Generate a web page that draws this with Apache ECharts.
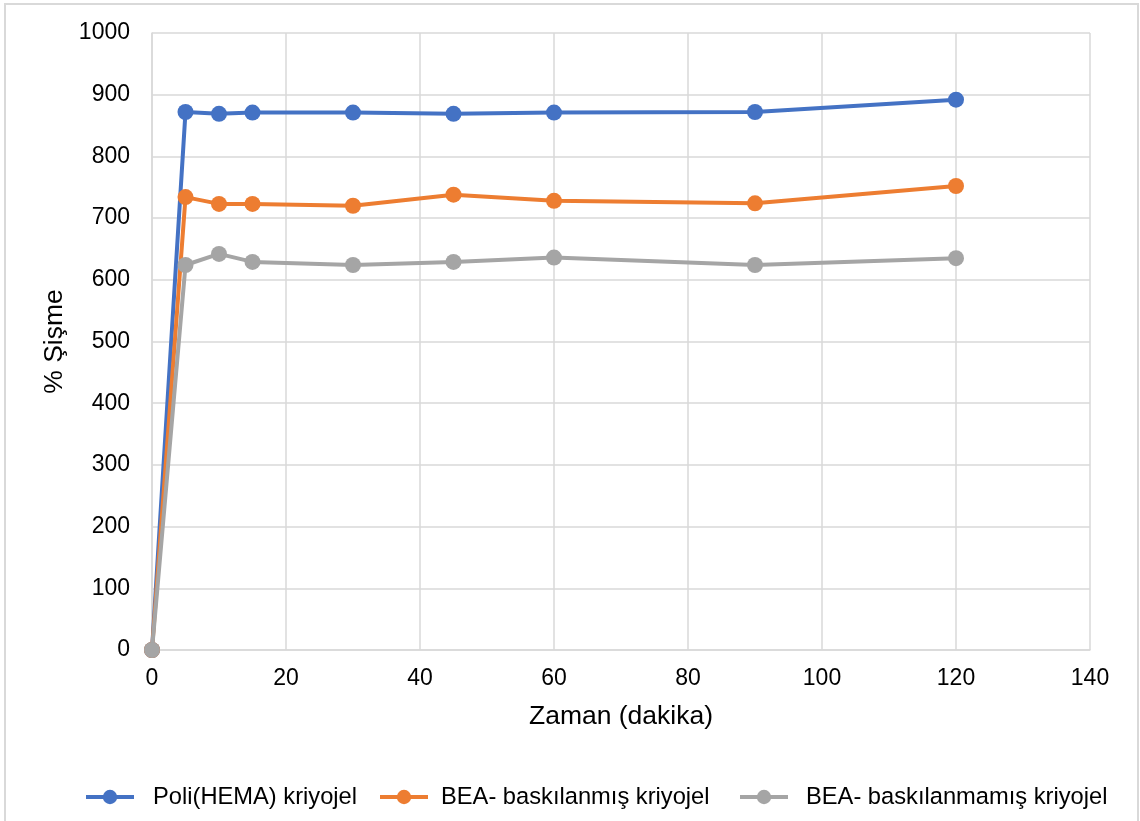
<!DOCTYPE html>
<html>
<head>
<meta charset="utf-8">
<script src="https://cdn.jsdelivr.net/npm/echarts@6/dist/echarts.min.js"></script>
<style>
  html, body { margin: 0; padding: 0; background: #ffffff; }
  #chart { width: 1140px; height: 821px; }
</style>
</head>
<body>
<div id="chart"></div>
<script>
// Swelling (%) of cryogels over time (minutes)
const timeMin = [0, 5, 10, 15, 30, 45, 60, 90, 120];
const polyHema = [0, 872, 869, 871, 871, 869, 871, 872, 892];
const beaImprinted = [0, 734, 723, 723, 720, 738, 728, 724, 752];
const beaNonImprinted = [0, 624, 642, 629, 624, 629, 636, 624, 635];

const seriesNames = ['Poli(HEMA) kriyojel', 'BEA- baskılanmış kriyojel', 'BEA- baskılanmamış kriyojel'];
const seriesColors = ['#4472C4', '#ED7D31', '#A5A5A5'];
const seriesValues = [polyHema, beaImprinted, beaNonImprinted];

const FONT = '"Liberation Sans", Arial, sans-serif';
const TEXT = '#000000';
const GRID = '#d9d9d9';

// one legend block per series, laid out along the bottom
const legendLeft = [84, 378, 738];
const legendTextPad = [14, 8, 13];

const chart = echarts.init(document.getElementById('chart'), null, { renderer: 'canvas' });

chart.setOption({
  animation: false,
  backgroundColor: '#ffffff',
  textStyle: { fontFamily: FONT },
  graphic: [{
    type: 'rect',
    shape: { x: 5, y: 4, width: 1133, height: 840 },
    style: { fill: 'none', stroke: GRID, lineWidth: 2 },
    silent: true,
    z: -1
  }],
  grid: { left: 152, top: 33, right: 50, bottom: 171, containLabel: false },
  legend: seriesNames.map((name, i) => ({
    left: legendLeft[i],
    top: 785,
    padding: 0,
    itemWidth: 48,
    itemHeight: 18,
    lineStyle: { width: 4 },
    textStyle: { fontFamily: FONT, fontSize: 23.7, color: TEXT, padding: [0, 0, 0, legendTextPad[i]] },
    data: [name]
  })),
  xAxis: {
    type: 'value',
    min: 0, max: 140, interval: 20,
    name: 'Zaman (dakika)',
    nameLocation: 'middle',
    nameGap: 53,
    nameTextStyle: { fontFamily: FONT, fontSize: 26.5, color: TEXT },
    axisLine: { show: true, lineStyle: { color: GRID, width: 1.5 } },
    axisTick: { show: false },
    axisLabel: { margin: 17, fontFamily: FONT, fontSize: 23, color: TEXT },
    splitLine: { show: true, lineStyle: { color: GRID, width: 1.5 } }
  },
  yAxis: {
    type: 'value',
    min: 0, max: 1000, interval: 100,
    name: '% Şişme',
    nameLocation: 'middle',
    nameGap: 82,
    nameTextStyle: { fontFamily: FONT, fontSize: 26.5, color: TEXT },
    axisLine: { show: true, lineStyle: { color: GRID, width: 1.5 } },
    axisTick: { show: false },
    axisLabel: { margin: 22, fontFamily: FONT, fontSize: 23, color: TEXT, formatter: v => String(v) },
    splitLine: { show: true, lineStyle: { color: GRID, width: 1.5 } }
  },
  series: seriesNames.map((name, i) => ({
    name: name,
    type: 'line',
    data: timeMin.map((t, k) => [t, seriesValues[i][k]]),
    symbol: 'circle',
    symbolSize: 16,
    showAllSymbol: true,
    lineStyle: { color: seriesColors[i], width: 4 },
    itemStyle: { color: seriesColors[i] },
    emphasis: { disabled: true },
    z: 2 + i
  }))
});
</script>
</body>
</html>
